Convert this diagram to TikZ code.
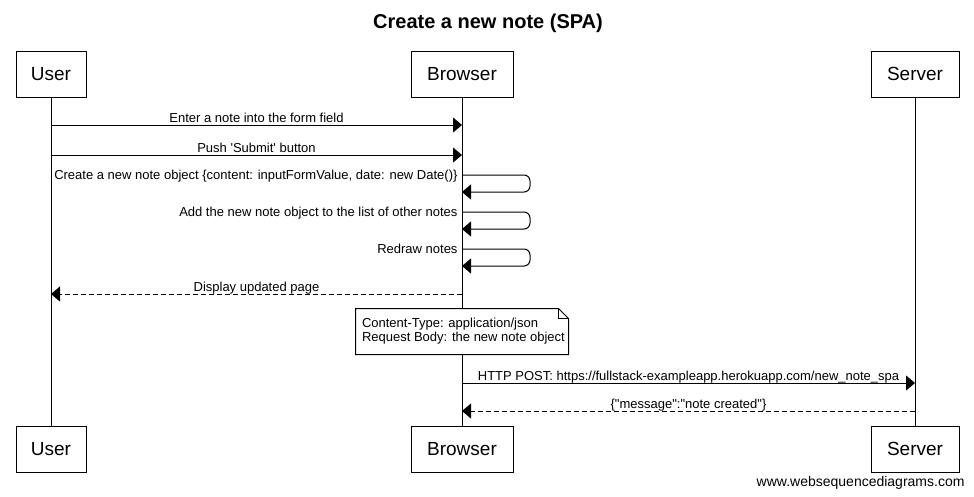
\documentclass[tikz,border=0pt]{standalone}
\usepackage{fontspec}
\setmainfont{Liberation Sans}
\usetikzlibrary{arrows.meta}
\begin{document}
\begin{tikzpicture}[x=1pt,y=-1pt, line width=1pt,
  actor/.style={draw, fill=white, minimum height=46pt, inner sep=0pt, font=\fontsize{19}{22}\selectfont},
  msg/.style={-{Triangle[length=9pt,width=15pt]}},
  reply/.style={msg, dash pattern=on 5pt off 3pt},
  lbl/.style={font=\fontsize{13}{15}\selectfont, inner sep=0pt, anchor=base, yshift=3pt},
  selflbl/.style={font=\fontsize{13}{15}\selectfont, inner sep=0pt, anchor=base east, xshift=-4pt, yshift=-4pt},
  selfloop/.style={msg, rounded corners=6pt}]
\useasboundingbox (0,0) rectangle (974,496);
\fill[white] (0,0) rectangle (974,496);

\node[font=\fontsize{20}{24}\selectfont\bfseries, anchor=base] (title) at (488,28) {Create a new note (SPA)};

\node[actor, minimum width=70pt] (userT) at (51,74) {User};
\node[actor, minimum width=102pt] (browserT) at (462,74) {Browser};
\node[actor, minimum width=88pt] (serverT) at (915,74) {Server};
\node[actor, minimum width=70pt] (userB) at (51,449) {User};
\node[actor, minimum width=102pt] (browserB) at (462,449) {Browser};
\node[actor, minimum width=88pt] (serverB) at (915,449) {Server};

\draw (userT.south) -- (userB.north);
\draw (browserT.south) -- (browserB.north);
\draw (serverT.south) -- (serverB.north);

% lifeline points
\coordinate (u1) at (51,125);  \coordinate (b1) at (462,125);
\coordinate (u2) at (51,155);  \coordinate (b2) at (462,155);
\coordinate (b3) at (462,175); \coordinate (b3r) at (462,192);
\coordinate (b4) at (462,212); \coordinate (b4r) at (462,229);
\coordinate (b5) at (462,249); \coordinate (b5r) at (462,266);
\coordinate (u6) at (51,294);  \coordinate (b6) at (462,294);
\coordinate (b7) at (462,383); \coordinate (s7) at (915,383);
\coordinate (b8) at (462,411); \coordinate (s8) at (915,411);

\draw[msg] (u1) -- node[lbl] {Enter a note into the form field} (b1);
\draw[msg] (u2) -- node[lbl] {Push \textquotesingle Submit\textquotesingle{} button} (b2);
\draw[selfloop] (b3) node[selflbl] {Create a new note object \{content: inputFormValue, date: new Date()\}} -- ++(68,0) -- ++(0,17) -- (b3r);
\draw[selfloop] (b4) node[selflbl] {Add the new note object to the list of other notes} -- ++(68,0) -- ++(0,17) -- (b4r);
\draw[selfloop] (b5) node[selflbl] {Redraw notes} -- ++(68,0) -- ++(0,17) -- (b5r);
\draw[reply] (b6) -- node[lbl] {Display updated page} (u6);

\node[fill=white, minimum width=212pt, minimum height=45pt, inner sep=0pt] (note) at (462,331.5) {};
\draw (note.north west) -- ([xshift=-10pt]note.north east) -- ([yshift=-10pt]note.north east) -- (note.south east) -- (note.south west) -- cycle;
\draw ([xshift=-10pt]note.north east) -- ([xshift=-10pt,yshift=-10pt]note.north east) -- ([yshift=-10pt]note.north east);
\node[anchor=west, inner sep=0pt, align=left, font=\fontsize{13}{14}\selectfont] (notetext) at ([xshift=6pt]note.west) {Content-Type: application/json\\Request Body: the new note object};

\draw[msg] (b7) -- node[lbl] {HTTP POST: https://fullstack-exampleapp.herokuapp.com/new\_note\_spa} (s7);
\draw[reply] (s8) -- node[lbl] {\{\textquotedbl message\textquotedbl :\textquotedbl note created\textquotedbl\}} (b8);

\node[anchor=base east, font=\fontsize{14}{16}\selectfont, inner sep=0pt] (footer) at (965,486) {www.websequencediagrams.com};
\end{tikzpicture}
\end{document}
